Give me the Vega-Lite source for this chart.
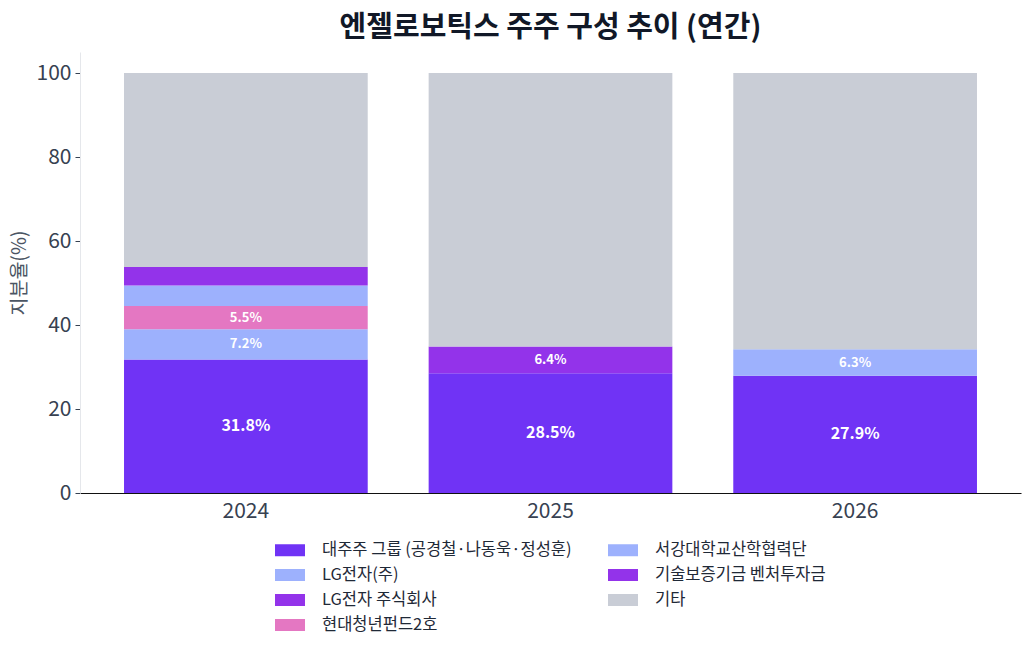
{
  "$schema": "https://vega.github.io/schema/vega-lite/v6.json",
  "width": 941,
  "height": 441,
  "autosize": {"type": "none"},
  "padding": {"left": 80, "top": 52, "right": 9, "bottom": 160},
  "background": "white",
  "config": {
    "font": "Noto Sans CJK KR",
    "view": {"stroke": null}
  },
  "title": {
    "text": "엔젤로보틱스 주주 구성 추이 (연간)",
    "fontSize": 29,
    "fontWeight": "bold",
    "color": "#111827",
    "anchor": "middle",
    "offset": 9
  },
  "data": {
    "values": [
      {"year": "2024", "holder": "대주주 그룹 (공경철·나동욱·정성훈)", "ord": 1, "value": 31.8},
      {"year": "2024", "holder": "LG전자(주)", "ord": 2, "value": 7.2},
      {"year": "2024", "holder": "현대청년펀드2호", "ord": 4, "value": 5.5},
      {"year": "2024", "holder": "서강대학교산학협력단", "ord": 5, "value": 4.9},
      {"year": "2024", "holder": "기술보증기금 벤처투자금", "ord": 6, "value": 4.4},
      {"year": "2024", "holder": "기타", "ord": 7, "value": 46.2},
      {"year": "2025", "holder": "대주주 그룹 (공경철·나동욱·정성훈)", "ord": 1, "value": 28.5},
      {"year": "2025", "holder": "LG전자 주식회사", "ord": 3, "value": 6.4},
      {"year": "2025", "holder": "기타", "ord": 7, "value": 65.1},
      {"year": "2026", "holder": "대주주 그룹 (공경철·나동욱·정성훈)", "ord": 1, "value": 27.9},
      {"year": "2026", "holder": "LG전자(주)", "ord": 2, "value": 6.3},
      {"year": "2026", "holder": "기타", "ord": 7, "value": 65.8}
    ]
  },
  "transform": [
    {"stack": "value", "groupby": ["year"], "sort": [{"field": "ord"}], "as": ["y0", "y1"]},
    {"calculate": "(datum.y0 + datum.y1) / 2", "as": "mid"},
    {"calculate": "format(datum.value, '.1f') + '%'", "as": "label"}
  ],
  "encoding": {
    "x": {
      "field": "year",
      "type": "ordinal",
      "scale": {"paddingInner": 0.2, "paddingOuter": 0.1445},
      "axis": {
        "title": null,
        "labelAngle": 0,
        "labelFontSize": 21,
        "labelColor": "#374151",
        "labelPadding": 7,
        "ticks": false,
        "domainColor": "#111111",
        "domainWidth": 1.2
      }
    }
  },
  "layer": [
    {
      "mark": {"type": "bar"},
      "encoding": {
        "y": {
          "field": "y0",
          "type": "quantitative",
          "scale": {"domain": [0, 105], "nice": false},
          "axis": {
            "title": "지분율(%)",
            "titleFontSize": 19.5,
            "titleFontWeight": "normal",
            "titleColor": "#4b5563",
            "titlePadding": 7,
            "values": [0, 20, 40, 60, 80, 100],
            "labelFontSize": 21,
            "labelColor": "#374151",
            "labelPadding": 4,
            "tickSize": 5,
            "tickColor": "#374151",
            "domainColor": "#e5e7eb",
            "grid": false
          }
        },
        "y2": {"field": "y1"},
        "color": {
          "field": "holder",
          "type": "nominal",
          "scale": {
            "domain": [
              "대주주 그룹 (공경철·나동욱·정성훈)",
              "LG전자(주)",
              "LG전자 주식회사",
              "현대청년펀드2호",
              "서강대학교산학협력단",
              "기술보증기금 벤처투자금",
              "기타"
            ],
            "range": ["#7033f5", "#9db1fd", "#9333ea", "#e477c2", "#9db1fd", "#9333ea", "#c9cdd6"]
          },
          "legend": {
            "title": null,
            "orient": "none",
            "legendX": 200,
            "legendY": 488,
            "columns": 2,
            "columnPadding": 36,
            "rowPadding": 6,
            "padding": 0,
            "symbolType": "M-1.5,-0.6H1.5V0.6H-1.5Z",
            "symbolSize": 400,
            "symbolStrokeWidth": 0,
            "symbolOpacity": 1,
            "labelOffset": 22,
            "labelFontSize": 16.5,
            "labelColor": "#1f2937",
            "labelLimit": 400
          }
        }
      }
    },
    {
      "transform": [{"filter": "datum.value >= 5 && datum.holder != '기타'"}],
      "mark": {"type": "text", "fontWeight": "bold", "color": "white", "baseline": "middle", "align": "center"},
      "encoding": {
        "y": {"field": "mid", "type": "quantitative"},
        "text": {"field": "label", "type": "nominal"},
        "size": {"condition": {"test": "datum.value > 20", "value": 16}, "value": 13}
      }
    }
  ]
}
